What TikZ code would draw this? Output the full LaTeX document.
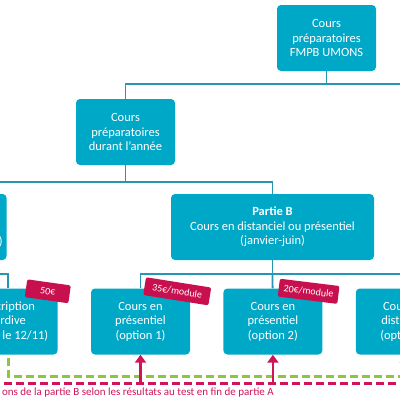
\documentclass[tikz,border=0pt]{standalone}
\usepackage{fontspec}
\setmainfont{Carlito}
\usetikzlibrary{positioning,calc,arrows.meta}

\definecolor{boxcol}{RGB}{0,168,200}
\definecolor{linecol}{RGB}{38,150,178}
\definecolor{tagcol}{RGB}{200,16,78}
\definecolor{dashred}{RGB}{208,20,88}
\definecolor{dashgreen}{RGB}{141,198,63}

\tikzset{
	bx/.style={fill=boxcol, rounded corners=4pt, text=white, align=center, minimum width=99pt, minimum height=66pt, inner sep=2pt, font=\fontsize{12.5}{14.5}\selectfont},
	pricetag/.style={fill=tagcol, rounded corners=2pt, text=white, minimum height=18pt, inner sep=2pt, font=\fontsize{10}{11}\selectfont},
	conn/.style={draw=linecol, line width=1.8pt},
	gdash/.style={draw=dashgreen, line width=3pt, dash pattern=on 8pt off 4pt},
	rdash/.style={draw=dashred, line width=3pt, dash pattern=on 8pt off 4pt},
	rarrow/.style={draw=dashred, line width=2.4pt, -{Triangle[width=11pt,length=8pt]}}
}

\begin{document}
\begin{tikzpicture}[x=1pt,y=-1pt]
		\useasboundingbox (0,0) rectangle (400,400);
		\clip (0,0) rectangle (400,400);
		
		%tree
		\node (top) [bx] at (326.5,38) {Cours\\préparatoires\\FMPB UMONS};
		\node (annee) [bx] at (125.5,132) {Cours\\préparatoires\\durant l’année};
		\node (partB) [bx, minimum width=203pt] at (272.5,227) {\textbf{Partie B}\\Cours en distanciel ou présentiel\\(janvier-juin)};
		\node (partA) [bx, minimum width=203pt, left = 164pt of partB] {};
		\node (partAend) [anchor=east, inner sep=0pt, text=white, font=\fontsize{12.5}{14.5}\selectfont] at ([xshift=-4pt,yshift=-15pt]partA.east) {)};
		
		\node (opt1) [bx] at (140.5,321.5) {Cours en\\présentiel\\(option 1)};
		\node (insc) [bx, left = 33pt of opt1] {Inscription\\tardive\\(après le 12/11)};
		\node (opt2) [bx, right = 33pt of opt1] {Cours en\\présentiel\\(option 2)};
		\node (opt3) [bx, right = 33pt of opt2] {Cours en\\distanciel\\(option 3)};
		
		%links
		\coordinate [below = 13pt of top.south] (t1);
		\coordinate [below = 17pt of annee.south] (a1);
		\coordinate [below = 14pt of partB.south] (b1);
		\coordinate [below = 14pt of partA.south] (p1);
		
		\draw[conn] (top) -- (t1) -| (annee);
		\draw[conn] (t1) -- ++(100,0);
		\draw[conn] (annee) -- (a1) -| (partB);
		\draw[conn] (a1) -| (partA);
		\draw[conn] (partB) -- (b1) -| (opt1);
		\draw[conn] (b1) -- (opt2);
		\draw[conn] (b1) -| (opt3);
		\draw[conn] (partA) -- (p1) -| (insc);
		
		%prices
		\node (tag50) [pricetag, minimum width=44pt, rotate=-8] at ([xshift=-10pt,yshift=-3pt]insc.north east) {50€};
		\node (tag35) [pricetag, minimum width=66pt, rotate=-9] at ([xshift=-13pt,yshift=-3pt]opt1.north east) {35€/module};
		\node (tag20) [pricetag, minimum width=60pt, rotate=-7] at ([xshift=-14pt,yshift=-3pt]opt2.north east) {20€/module};
		
		%orientation
		\coordinate (gr) at (420,376);
		\coordinate (rl) at (-20,383);
		\coordinate (rr) at (420,383);
		\draw[gdash] ([yshift=-3pt]insc.south) |- (gr);
		\draw[rdash] (rl) -- (rr);
		\draw[rarrow] (opt1.south |- rr) -- (opt1.south);
		\draw[rarrow] (opt2.south |- rr) -- (opt2.south);
		\draw[rarrow] (opt3.south |- rr) -- (opt3.south);
		\node (note) [anchor=east, text=dashred, inner sep=0pt, font=\fontsize{11}{12}\selectfont] at (274,393) {ons de la partie B selon les résultats au test en fin de partie A};
\end{tikzpicture}
\end{document}
